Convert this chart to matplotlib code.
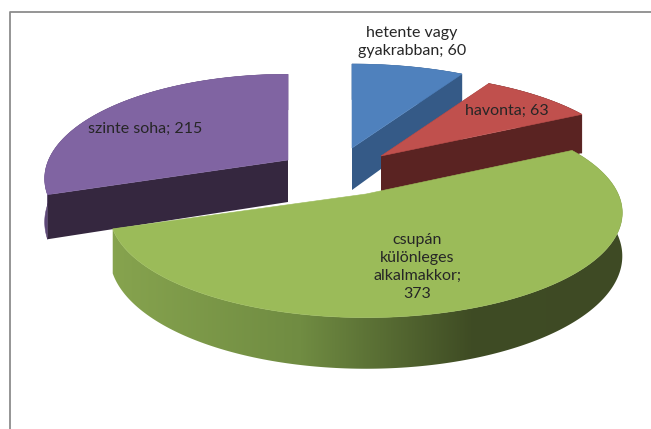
import numpy as np
import matplotlib
matplotlib.use("Agg")
import matplotlib.pyplot as plt
from matplotlib.colors import to_rgb
from matplotlib.patches import Polygon

labels = ["hetente vagy\ngyakrabban; 60", "havonta; 63",
          "csupán\nkülönleges\nalkalmakkor;\n373", "szinte soha; 215"]
values = [60, 63, 373, 215]

top_colors = ["#4f81bd", "#c0504d", "#9bbb59", "#8064a2"]
side_colors = ["#355a87", "#5a2322", "#3e4a24", "#35273f"]
rim_colors = ["#355a87", "#5a2322", None, "#5d4777"]

# layout in pixels
center = (366, 194)
offsets = [(-14, -46), (15, -38), (0, 0), (-78, -34)]
scales = [0.98, 0.96, 0.985, 0.935]
yscales = [1.0, 1.0, 1.02, 1.07]
label_pos = [(412, 42), (507, 111), (417, 267), (145, 129)]
rx, ry, persp, height = 256, 101, 0.179, 42


def project(ang, r, z, cx, cy, scale, yscale=1.0):
    x = r * np.sin(ang)
    y = r * np.cos(ang)
    s = 1 / (1 + persp * y)
    return cx + scale * rx * x * s, cy - yscale * scale * ry * y * s + z * s


fig = plt.figure(figsize=(6.51, 4.29), dpi=100)
ax = fig.add_axes([0, 0, 1, 1])
ax.set_xlim(0, 651)
ax.set_ylim(429, 0)
ax.axis("off")

ax.plot([10, 10, 651], [429, 12, 12], color="#8c8c8c", lw=1.3, zorder=1)

edges = np.cumsum([0] + values) / sum(values) * 2 * np.pi
draw_order = [3, 0, 1, 2]
for n, i in enumerate(draw_order):
    cx = center[0] + offsets[i][0]
    cy = center[1] + offsets[i][1]
    sc = scales[i]
    ys = yscales[i]
    z0 = 2 + n * 2
    angs = np.linspace(edges[i], edges[i + 1], 200)
    px, py = project(angs, 1, 0, cx, cy, sc, ys)
    bx, by = project(angs, 1, height, cx, cy, sc, ys)
    band = list(zip(px, py)) + list(zip(bx[::-1], by[::-1]))

    # outer rim
    if rim_colors[i]:
        ax.add_patch(Polygon(band, closed=True, facecolor=rim_colors[i],
                             edgecolor=rim_colors[i], lw=0.4, zorder=z0))
    else:
        # big slice: side goes from light on the left to dark on the right
        clip = Polygon(band, closed=True, transform=ax.transData, facecolor="none", edgecolor="none")
        ax.add_patch(clip)
        xs = np.arange(110, 630)
        stops = [115, 300, 470, 620]
        cols = np.array([to_rgb(c) for c in ["#86a34e", "#708c42", "#3f4c24", "#3e4a24"]])
        grad = np.stack([np.interp(xs, stops, cols[:, k]) for k in range(3)], axis=-1)[None, :, :]
        im = ax.imshow(grad, extent=(110, 630, 380, 140), aspect="auto", zorder=z0)
        im.set_clip_path(clip)
        ax.set_xlim(0, 651)
        ax.set_ylim(429, 0)

    # cut faces are only seen on the exploded slices
    if i != 2:
        for a in (edges[i], edges[i + 1]):
            xe, ye = project(a, 1, 0, cx, cy, sc, ys)
            xb, yb = project(a, 1, height, cx, cy, sc, ys)
            ax.add_patch(Polygon([(cx, cy), (xe, ye), (xb, yb), (cx, cy + height)], closed=True,
                                 facecolor=side_colors[i], edgecolor="none", zorder=z0))

    # top face
    pts = [(cx, cy)] + list(zip(px, py))
    ax.add_patch(Polygon(pts, closed=True, facecolor=top_colors[i],
                         edgecolor=top_colors[i], lw=0.4, zorder=z0 + 1))

for lab, pos in zip(labels, label_pos):
    ax.text(pos[0], pos[1], lab, ha="center", va="center", family="Lato", fontsize=11.5,
            color="#262626", linespacing=1.35, zorder=20)

fig.savefig("out.png", dpi=100)
